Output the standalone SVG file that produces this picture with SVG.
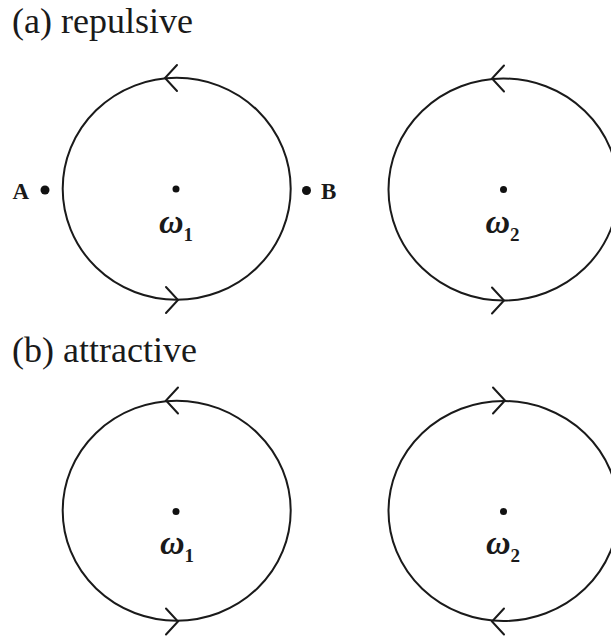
<svg xmlns="http://www.w3.org/2000/svg" width="611" height="639" viewBox="0 0 611 639">
<style>
.c{fill:none;stroke:#1a1a1a;stroke-width:2}
.h{fill:none;stroke:#1a1a1a;stroke-width:2;stroke-linecap:round;stroke-linejoin:miter}
.t{font-family:"Liberation Serif","Times New Roman",serif;font-size:36px;fill:#1a1a1a}
.w{font-family:"Liberation Serif","Times New Roman",serif;font-size:34px;font-weight:bold;font-style:italic;fill:#1a1a1a}
.s{font-size:19px;font-style:normal}
.p{font-family:"Liberation Serif","Times New Roman",serif;font-size:23px;font-weight:bold;fill:#1a1a1a}
.d{fill:#111}
</style>
<rect width="611" height="639" fill="#fff"/>
<text class="t" x="12" y="33">(a) repulsive</text>
<text class="t" x="12" y="362">(b) attractive</text>

<g id="a-vortex1">
<ellipse class="c" cx="176.7" cy="188.8" rx="114" ry="111"/>
<circle class="d" cx="176" cy="189" r="3.5"/>
<text class="w" x="159" y="233">ω<tspan class="s" dx="0" dy="8">1</tspan></text>
</g>
<g id="a-vortex2">
<ellipse class="c" cx="503.5" cy="189.5" rx="115" ry="111"/>
<circle class="d" cx="503.5" cy="189.5" r="3.5"/>
<text class="w" x="485.5" y="233">ω<tspan class="s" dx="0" dy="8">2</tspan></text>
</g>
<g id="pointA">
<circle class="d" cx="45" cy="190" r="4.5"/>
<text class="p" x="12.5" y="199">A</text>
</g>
<g id="pointB">
<circle class="d" cx="306.5" cy="190.5" r="4.5"/>
<text class="p" x="321" y="199">B</text>
</g>
<g id="b-vortex1">
<ellipse class="c" cx="176.7" cy="510.7" rx="114" ry="110"/>
<circle class="d" cx="176" cy="511.5" r="3.5"/>
<text class="w" x="160" y="554">ω<tspan class="s" dx="0" dy="8">1</tspan></text>
</g>
<g id="b-vortex2">
<ellipse class="c" cx="503.5" cy="511" rx="115" ry="110"/>
<circle class="d" cx="503.5" cy="511.5" r="3.5"/>
<text class="w" x="486" y="554">ω<tspan class="s" dx="0" dy="8">2</tspan></text>
</g>

<g id="arrows">
<path class="h" d="M177 65 L165 78 L177 91"/>
<path class="h" d="M166 287 L178 300 L166 313"/>
<path class="h" d="M504 65.5 L492 78.5 L504 91.5"/>
<path class="h" d="M492 287.5 L504 300.5 L492 313.5"/>
<path class="h" d="M178 387.5 L166 400.5 L178 413.5"/>
<path class="h" d="M166 608.5 L178 621.5 L166 634.5"/>
<path class="h" d="M493 387.5 L505 400.5 L493 413.5"/>
<path class="h" d="M504 608.5 L492 621.5 L504 634.5"/>
</g>
</svg>
